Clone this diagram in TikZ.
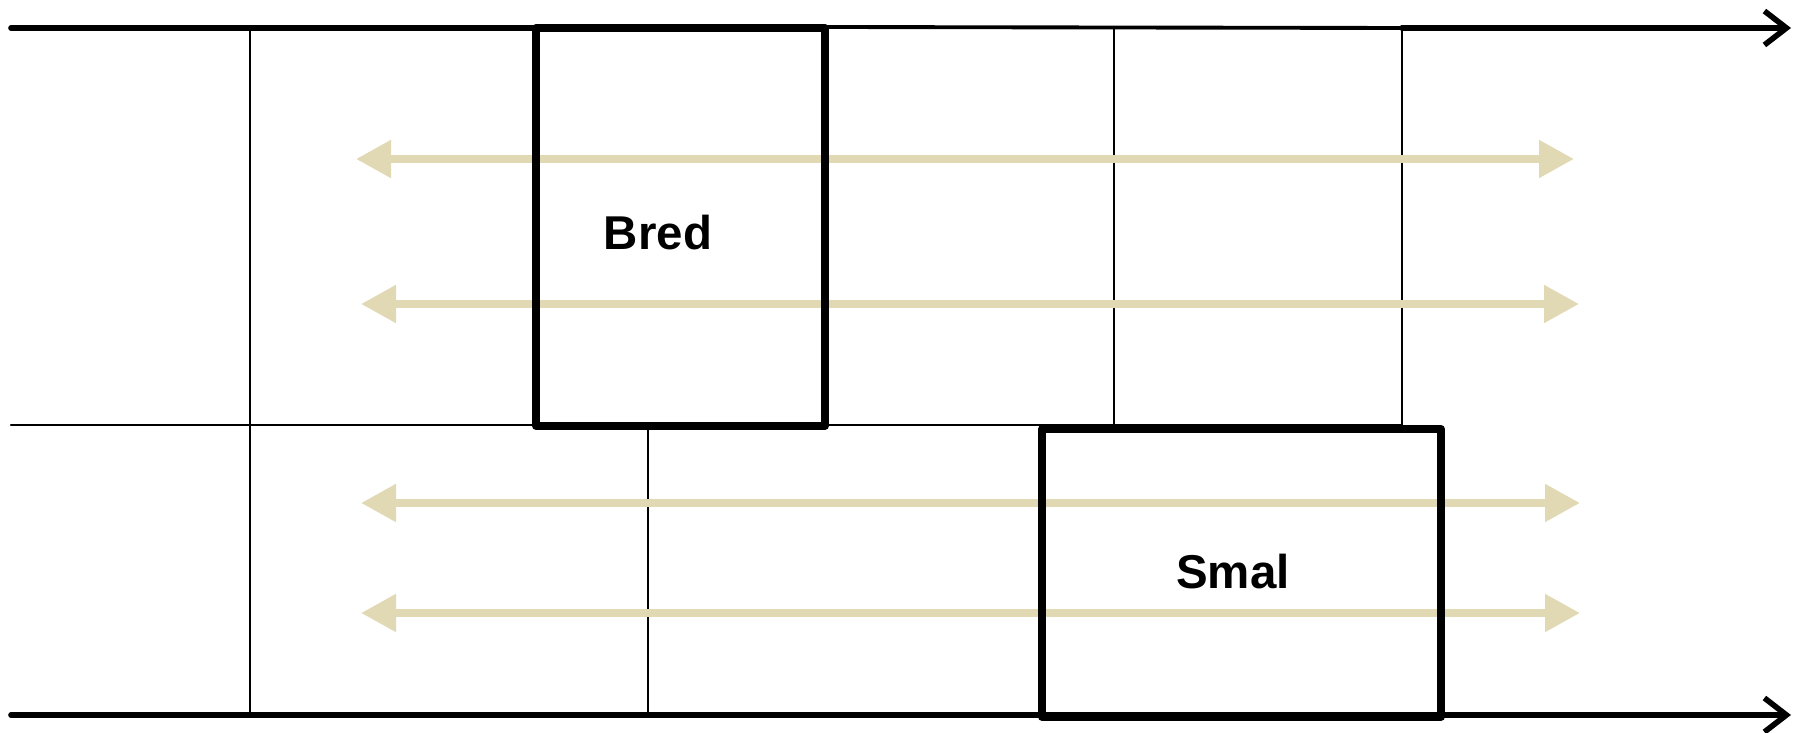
\documentclass[tikz,border=0pt]{standalone}
\usepackage{fontspec}
\setmainfont{Liberation Sans}
\usetikzlibrary{arrows.meta}
\definecolor{tan}{RGB}{225,217,180}
\begin{document}
\begin{tikzpicture}[x=0.1mm,y=-0.1mm, line join=round,line cap=round,
		font=\fontsize{13.5}{16}\selectfont\bfseries,
		axis/.style={line width=1.6pt},
		cell/.style={line width=0.6pt},
		boks/.style={line width=2.2pt},
		span/.style={tan, line width=2.3pt, line cap=butt, {Triangle[length=3.5mm,width=3.6mm]}-{Triangle[length=3.5mm,width=3.6mm]}}]
	\useasboundingbox (0,0) rectangle (1793,733);
	% --- Tidsakser ---
	\coordinate (t0) at (11,28);
	\coordinate (t1) at (1402,28);
	\coordinate (tE) at (1791,28);
	\coordinate (b0) at (11,715);
	\coordinate (bE) at (1791,715);
	\draw[axis] (t0)--(536,28);
	\draw[line width=1.1pt] (825,27)--(t1);
	\draw[axis,-{Straight Barb[length=2.2mm,width=3.4mm]}] (t1)--(tE);
	\draw[axis,-{Straight Barb[length=2.2mm,width=3.4mm]}] (b0)--(bE);
	% --- Rutenett ---
	\draw[cell] (11,425)--(1402,425);
	\draw[cell] (250,28)--(250,715);
	\draw[cell] (1114,28)--(1114,425);
	\draw[cell] (1402,28)--(1402,425);
	\draw[cell] (648,425)--(648,715);
	% --- Piler ---
	\draw[span] (356,159)--(1574,159);
	\draw[span] (361,304)--(1579,304);
	\draw[span] (361,503)--(1580,503);
	\draw[span] (361,613)--(1580,613);
	% --- Bokser ---
	\draw[boks] (536,28) rectangle (825,426);
	\draw[boks] (1042,429) rectangle (1441,717);
	\node (bred) at (658,233) {Bred};
	\node (smal) at (1233,572) {Smal};
\end{tikzpicture}
\end{document}
